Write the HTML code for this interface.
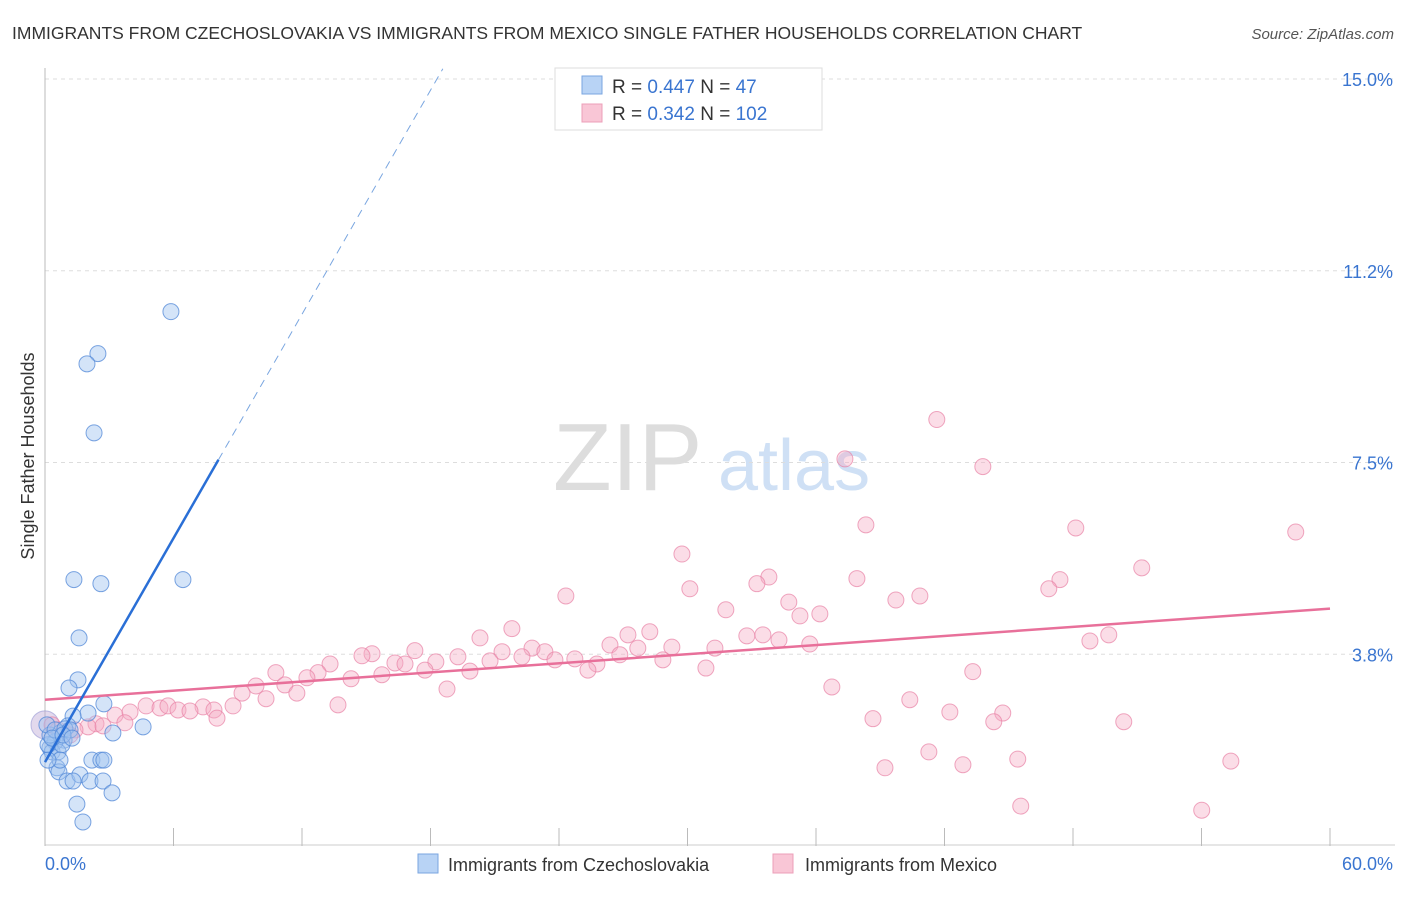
<!DOCTYPE html>
<html><head><meta charset="utf-8"><style>
body{margin:0;background:#fff;font-family:"Liberation Sans",sans-serif;}
svg text{font-family:"Liberation Sans",sans-serif;}
</style></head><body>
<svg width="1406" height="892" xmlns="http://www.w3.org/2000/svg">
<text x="12" y="39" font-size="17.5" fill="#333">IMMIGRANTS FROM CZECHOSLOVAKIA VS IMMIGRANTS FROM MEXICO SINGLE FATHER HOUSEHOLDS CORRELATION CHART</text>
<text x="1394" y="39" font-size="15" fill="#555" text-anchor="end" font-style="italic">Source: ZipAtlas.com</text>
<g>
<text x="553" y="490" font-size="96" fill="#ddd" font-family="Liberation Serif" font-family-override="1">ZIP</text>
<text x="718" y="490" font-size="72" fill="#cfe0f5">atlas</text>
</g>
<g id="grid"></g>
<g id="axes"></g>
<g id="marks"></g>
<text transform="translate(34,456) rotate(-90)" font-size="18" fill="#333" text-anchor="middle">Single Father Households</text>
<g>
<rect x="555" y="68" width="267" height="62" fill="#fff" stroke="#ddd"/>
<rect x="582" y="76" width="20" height="18" fill="#b8d3f5" stroke="#7aa6e0"/>
<rect x="582" y="104" width="20" height="18" fill="#f9c6d6" stroke="#ec9fb8"/>
<text x="612" y="93" font-size="19" fill="#333">R = <tspan fill="#3a75d0">0.447</tspan>   N = <tspan fill="#3a75d0">  47</tspan></text>
<text x="612" y="120" font-size="19" fill="#333">R = <tspan fill="#3a75d0">0.342</tspan>   N = <tspan fill="#3a75d0">102</tspan></text>
</g>
<g>
<rect x="418" y="854" width="20" height="19" fill="#b8d3f5" stroke="#7aa6e0"/>
<text x="448" y="871" font-size="18" fill="#333">Immigrants from Czechoslovakia</text>
<rect x="773" y="854" width="20" height="19" fill="#f9c6d6" stroke="#ec9fb8"/>
<text x="805" y="871" font-size="18" fill="#333">Immigrants from Mexico</text>
</g>
</svg>
<script>
const yTicks=[3.75,7.5,11.25,15];
const yTickLabels=["3.8%","7.5%","11.2%","15.0%"];
const xTickCount=10;
const blueX=[5.88,2.47,1.96,2.29,1.35,2.61,6.44,1.59,1.54,1.12,2.75,2.01,1.31,4.58,3.17,1.07,0.70,0.89,0.47,0.23,0.33,0.61,0.14,0.79,2.19,2.61,2.75,0.56,0.65,1.03,1.63,1.31,2.10,2.71,3.13,1.49,1.77,0.23,0.09,0.47,0.93,1.17,0.70,0.14,0.33,0.84,1.26];
const blueY=[10.45,9.63,9.43,8.08,5.21,5.13,5.21,4.07,3.25,3.09,2.78,2.60,2.54,2.33,2.21,2.35,2.21,2.07,2.04,1.92,1.84,1.84,1.98,1.98,1.68,1.68,1.68,1.53,1.45,1.27,1.39,1.27,1.27,1.27,1.04,0.82,0.47,2.17,2.37,2.27,2.29,2.27,1.68,1.68,2.11,2.17,2.11];
const pinkX=[41.64,43.79,37.35,38.33,48.13,58.40,29.74,51.21,33.80,37.91,47.39,33.24,30.11,46.87,24.32,40.85,39.73,34.73,31.79,36.18,35.25,21.80,28.24,27.22,49.67,33.52,32.77,20.31,48.79,35.71,34.27,26.38,31.28,29.27,27.68,22.74,23.34,21.34,26.84,17.27,15.27,14.80,19.28,20.78,23.81,24.74,22.27,28.85,25.77,18.25,16.34,16.81,25.35,17.74,19.84,30.86,13.31,12.75,10.78,14.29,15.73,12.23,11.20,43.32,36.74,9.85,18.77,9.20,11.76,10.32,40.38,13.68,8.78,4.72,5.37,5.74,7.38,6.21,6.77,7.89,8.03,3.27,3.97,3.73,42.25,44.72,38.66,44.30,50.37,2.38,2.01,2.71,1.40,1.17,41.27,55.37,45.42,42.86,39.22,45.56,54.01,0.33,0.61];
const pinkY=[8.34,7.42,7.57,6.28,6.22,6.14,5.71,5.44,5.26,5.23,5.21,5.13,5.03,5.03,4.89,4.89,4.81,4.77,4.62,4.54,4.50,4.25,4.19,4.13,4.13,4.13,4.11,4.07,4.01,3.95,4.03,3.93,3.87,3.89,3.87,3.87,3.80,3.80,3.74,3.82,3.76,3.72,3.70,3.62,3.64,3.66,3.70,3.64,3.56,3.60,3.58,3.56,3.44,3.44,3.42,3.48,3.56,3.39,3.39,3.27,3.35,3.29,3.15,3.41,3.11,3.13,3.07,2.99,2.99,2.88,2.86,2.76,2.74,2.74,2.70,2.74,2.72,2.66,2.64,2.66,2.50,2.56,2.62,2.41,2.62,2.60,2.49,2.43,2.43,2.39,2.33,2.35,2.27,2.17,1.84,1.66,1.70,1.59,1.53,0.78,0.70,2.37,2.27];
const blueLine=[1.64,0.73];   // intercept, slope
const pinkLine=[2.86,0.0297];
const NS="http://www.w3.org/2000/svg";
const X0=45,X1=1330,Y0=846,Y15=79;
const sx=v=>X0+(X1-X0)*v/60;
const sy=v=>Y0-(Y0-Y15)*v/15;
function mk(tag,attrs,parent){const e=document.createElementNS(NS,tag);for(const k in attrs)e.setAttribute(k,attrs[k]);parent.appendChild(e);return e;}
const grid=document.getElementById('grid'),axes=document.getElementById('axes'),marks=document.getElementById('marks');
yTicks.forEach((t,i)=>{
 const l=mk('line',{x1:45,x2:1395,y1:sy(t),y2:sy(t),stroke:'#ddd','stroke-dasharray':'4,4'},grid);
 
 
 const tx=mk('text',{x:1393,y:sy(t)+7,'font-size':18,fill:'#3a75d0','text-anchor':'end'},axes);
 tx.textContent=yTickLabels[i];
 
 
});
mk('line',{x1:45,x2:45,y1:68,y2:846,stroke:'#bbb'},axes);
mk('line',{x1:45,x2:1395,y1:845,y2:845,stroke:'#ccc'},axes);
for(let i=0;i<=xTickCount;i++){const x=sx(i*60/xTickCount);const t=mk('line',{x1:x,x2:x,y1:828,y2:846,stroke:'#bbb'},axes);
 
 }
const xl=mk('text',{x:45,y:870,'font-size':18,fill:'#3a75d0'},axes);xl.textContent='0.0%';


const xr=mk('text',{x:1393,y:870,'font-size':18,fill:'#3a75d0','text-anchor':'end'},axes);xr.textContent='60.0%';


// big point at origin edge
const big=mk('circle',{cx:sx(0),cy:sy(2.37),r:14,fill:'rgba(190,170,215,0.45)',stroke:'rgba(150,150,210,0.6)'},marks);


pinkX.forEach((v,i)=>{const c=mk('circle',{cx:sx(v),cy:sy(pinkY[i]),r:8,fill:'rgba(245,170,195,0.4)',stroke:'rgba(232,130,165,0.7)','stroke-width':1},marks);
 
 });
blueX.forEach((v,i)=>{const c=mk('circle',{cx:sx(v),cy:sy(blueY[i]),r:8,fill:'rgba(160,195,240,0.45)',stroke:'rgba(80,135,215,0.75)','stroke-width':1},marks);
 
 });
const pl=mk('line',{x1:sx(0),y1:sy(pinkLine[0]),x2:sx(60),y2:sy(pinkLine[0]+pinkLine[1]*60),stroke:'#e8709a','stroke-width':2.5},marks);


const bEnd=8.1,bDash=(15.2-blueLine[0])/blueLine[1];
const bl=mk('line',{x1:sx(0),y1:sy(blueLine[0]),x2:sx(bEnd),y2:sy(blueLine[0]+blueLine[1]*bEnd),stroke:'#2a6fd6','stroke-width':2.5},marks);


const bd=mk('line',{x1:sx(bEnd),y1:sy(blueLine[0]+blueLine[1]*bEnd),x2:sx(bDash),y2:sy(15.2),stroke:'#7aa6e0','stroke-width':1,'stroke-dasharray':'8,6'},marks);


</script>
</body></html>
